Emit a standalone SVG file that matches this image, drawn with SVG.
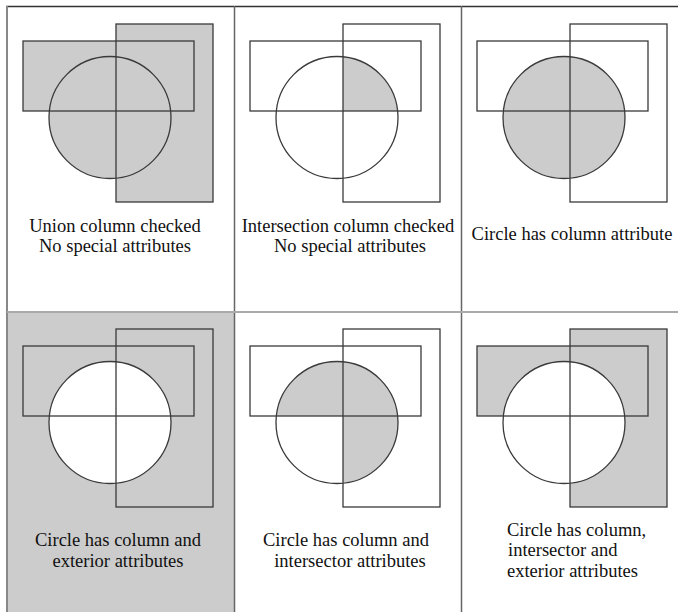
<svg xmlns="http://www.w3.org/2000/svg" width="678" height="612" viewBox="0 0 678 612">
<style>
.o{fill:none;stroke:#3a3a3a;stroke-width:1.3}
.g{fill:#cccccc;stroke:none}
.w{fill:#ffffff;stroke:none}
text{font-family:'Liberation Serif','DejaVu Serif',serif;font-size:18.5px;fill:#111}
.m{text-anchor:middle}
</style>
<defs>
<clipPath id="c1"><circle cx="337" cy="117.5" r="61"/></clipPath>
<clipPath id="c5"><circle cx="337" cy="422.5" r="61"/></clipPath>
</defs>
<rect x="0" y="0" width="678" height="612" fill="#ffffff"/>
<g id="grid">
<rect x="8" y="313" width="226" height="299" class="g"/>
<line x1="6" y1="6.5" x2="678" y2="6.5" stroke="#333" stroke-width="1.6"/>
<line x1="7" y1="6" x2="7" y2="612" stroke="#888" stroke-width="2"/>
<line x1="234.5" y1="6" x2="234.5" y2="612" stroke="#666" stroke-width="1.5"/>
<line x1="461.5" y1="6" x2="461.5" y2="612" stroke="#666" stroke-width="1.5"/>
<line x1="7" y1="312" x2="678" y2="312" stroke="#aaa" stroke-width="2"/>
</g>
<g id="panel1">
<rect x="116" y="24" width="97" height="178" class="g"/>
<rect x="23" y="41" width="171" height="70" class="g"/>
<circle cx="110" cy="117.5" r="61" class="g"/>
<rect x="116" y="24" width="97" height="178" class="o"/>
<rect x="23" y="41" width="171" height="70" class="o"/>
<circle cx="110" cy="117.5" r="61" class="o"/>
<text class="m" x="115" y="232">Union column checked</text>
<text class="m" x="115" y="252">No special attributes</text>
</g>
<g id="panel2">
<rect x="343" y="41" width="78" height="70" class="g" clip-path="url(#c1)"/>
<rect x="343" y="24" width="97" height="178" class="o"/>
<rect x="250" y="41" width="171" height="70" class="o"/>
<circle cx="337" cy="117.5" r="61" class="o"/>
<text class="m" x="348" y="232">Intersection column checked</text>
<text class="m" x="350" y="252">No special attributes</text>
</g>
<g id="panel3">
<circle cx="564" cy="117.5" r="61" class="g"/>
<rect x="570" y="24" width="97" height="178" class="o"/>
<rect x="477" y="41" width="171" height="70" class="o"/>
<circle cx="564" cy="117.5" r="61" class="o"/>
<text class="m" x="572" y="240">Circle has column attribute</text>
</g>
<g id="panel4">
<circle cx="110" cy="422.5" r="61" class="w"/>
<rect x="116" y="329" width="97" height="178" class="o"/>
<rect x="23" y="346" width="171" height="70" class="o"/>
<circle cx="110" cy="422.5" r="61" class="o"/>
<text class="m" x="118" y="546">Circle has column and</text>
<text class="m" x="118" y="567">exterior attributes</text>
</g>
<g id="panel5">
<g clip-path="url(#c5)">
<rect x="343" y="329" width="97" height="178" class="g"/>
<rect x="250" y="346" width="171" height="70" class="g"/>
</g>
<rect x="343" y="329" width="97" height="178" class="o"/>
<rect x="250" y="346" width="171" height="70" class="o"/>
<circle cx="337" cy="422.5" r="61" class="o"/>
<text class="m" x="346" y="546">Circle has column and</text>
<text class="m" x="350" y="567">intersector attributes</text>
</g>
<g id="panel6">
<rect x="570" y="329" width="97" height="178" class="g"/>
<rect x="477" y="346" width="171" height="70" class="g"/>
<circle cx="564" cy="422.5" r="61" class="w"/>
<rect x="570" y="329" width="97" height="178" class="o"/>
<rect x="477" y="346" width="171" height="70" class="o"/>
<circle cx="564" cy="422.5" r="61" class="o"/>
<text x="507" y="536">Circle has column,</text>
<text x="508" y="556">intersector and</text>
<text x="507" y="577">exterior attributes</text>
</g>
</svg>
